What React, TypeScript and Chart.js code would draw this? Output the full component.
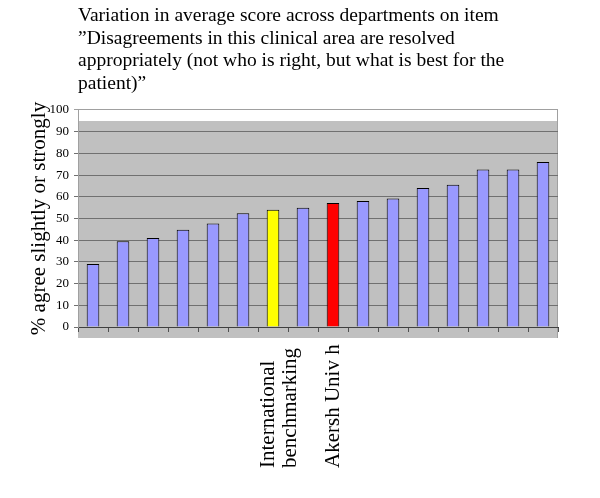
import React, { useEffect, useRef } from 'react';
import { Chart, registerables } from 'chart.js';

Chart.register(...registerables);

const FAMILY = "'Times New Roman', 'Liberation Serif', serif";

const titleLines = [
  'Variation in average score across departments on item',
  '\u201DDisagreements in this clinical area are resolved',
  'appropriately (not who is right, but what is best for the',
  'patient)\u201D',
];

const yAxisTitle = '% agree slightly or strongly';

const categories: (string | string[])[] = [
  '', '', '', '', '', '',
  ['International', 'benchmarking'],
  '',
  'Akersh Univ h',
  '', '', '', '', '', '', '',
];

const values = [29, 39.5, 41, 44.8, 47.7, 52.4, 54, 55, 57.2, 58.1, 59.2, 64, 65.5, 72.6, 72.6, 76];

const yMin = 0;
const yMax = 100;
const yStep = 10;

const BLUE = '#9999FF';
const YELLOW = '#FFFF00';
const RED = '#FF0000';
const barColors = [BLUE, BLUE, BLUE, BLUE, BLUE, BLUE, YELLOW, BLUE, RED, BLUE, BLUE, BLUE, BLUE, BLUE, BLUE, BLUE];

const WALL_DEPTH = 11;

const wallPlugin = {
  id: 'wall',
  beforeDraw(chart: any) {
    const { ctx, chartArea: a } = chart;
    ctx.save();
    ctx.fillStyle = '#C0C0C0';
    ctx.fillRect(a.left, a.top + WALL_DEPTH, a.right - a.left, a.bottom - a.top);
    ctx.strokeStyle = '#A0A0A0';
    ctx.lineWidth = 1;
    ctx.beginPath();
    ctx.moveTo(a.right - 0.5, a.top);
    ctx.lineTo(a.right - 0.5, a.bottom + WALL_DEPTH);
    ctx.stroke();
    ctx.restore();
  },
};

const xLabelPlugin = {
  id: 'xLabels',
  afterDraw(chart: any) {
    const { ctx, chartArea: a } = chart;
    const xs = chart.scales.x;
    const lineGap = 22;
    const startY = a.bottom + 141;
    ctx.save();
    ctx.font = `21px ${FAMILY}`;
    ctx.fillStyle = '#000';
    ctx.textAlign = 'left';
    ctx.textBaseline = 'middle';
    categories.forEach((lab, i) => {
      const lines = Array.isArray(lab) ? lab : [lab];
      if (!lines.join('')) return;
      const px = xs.getPixelForValue(i);
      lines.forEach((line, j) => {
        ctx.save();
        ctx.translate(px + j * lineGap - (lines.length - 1) * 5, startY);
        ctx.rotate(-Math.PI / 2);
        ctx.fillText(line, 0, 0);
        ctx.restore();
      });
    });
    ctx.restore();
  },
};

export default function App() {
  const canvasRef = useRef<HTMLCanvasElement | null>(null);

  useEffect(() => {
    if (!canvasRef.current) return;
    const chart = new Chart(canvasRef.current, {
      type: 'bar',
      data: {
        labels: categories.map((c) => (Array.isArray(c) ? c.join(' ') : c)),
        datasets: [
          {
            data: values,
            backgroundColor: barColors,
            borderColor: '#000000',
            borderWidth: 1,
            categoryPercentage: 1,
            barPercentage: 0.42,
          },
        ],
      },
      options: {
        animation: false,
        responsive: false,
        layout: { padding: { left: 0, right: 42, top: 0, bottom: 0 } },
        plugins: {
          legend: { display: false },
          tooltip: { enabled: false },
          title: {
            display: true,
            text: titleLines,
            align: 'start',
            fullSize: false,
            color: '#000',
            font: { family: FAMILY, size: 19.5, weight: 'normal', lineHeight: 22.5 / 19.5 },
            padding: { top: 5, bottom: 15 },
          },
        },
        scales: {
          x: {
            afterFit(scale: any) {
              scale.height = 171;
            },
            ticks: { display: false },
            grid: {
              display: true,
              drawOnChartArea: false,
              drawTicks: true,
              tickLength: 5,
              color: '#505050',
              offset: true,
            },
            border: { display: true, color: '#404040', width: 1 },
          },
          y: {
            min: yMin,
            max: yMax,
            afterFit(scale: any) {
              scale.width = 78;
            },
            ticks: {
              stepSize: yStep,
              color: '#000',
              padding: 5,
              font: { family: FAMILY, size: 13 },
            },
            grid: {
              color: (c: any) => (c.tick && c.tick.value === yMax ? '#A0A0A0' : '#707070'),
              tickLength: 4,
              drawTicks: true,
            },
            border: { display: true, color: '#A0A0A0' },
            title: {
              display: true,
              text: yAxisTitle,
              color: '#000',
              font: { family: FAMILY, size: 21 },
              padding: { top: 27, bottom: 0 },
            },
          },
        },
      },
      plugins: [wallPlugin, xLabelPlugin],
    });
    return () => chart.destroy();
  }, []);

  return (
    <div style={{ position: 'fixed', left: 0, top: 0, width: 600, height: 498, background: '#fff' }}>
      <canvas ref={canvasRef} width={600} height={498} style={{ display: 'block' }} />
    </div>
  );
}
